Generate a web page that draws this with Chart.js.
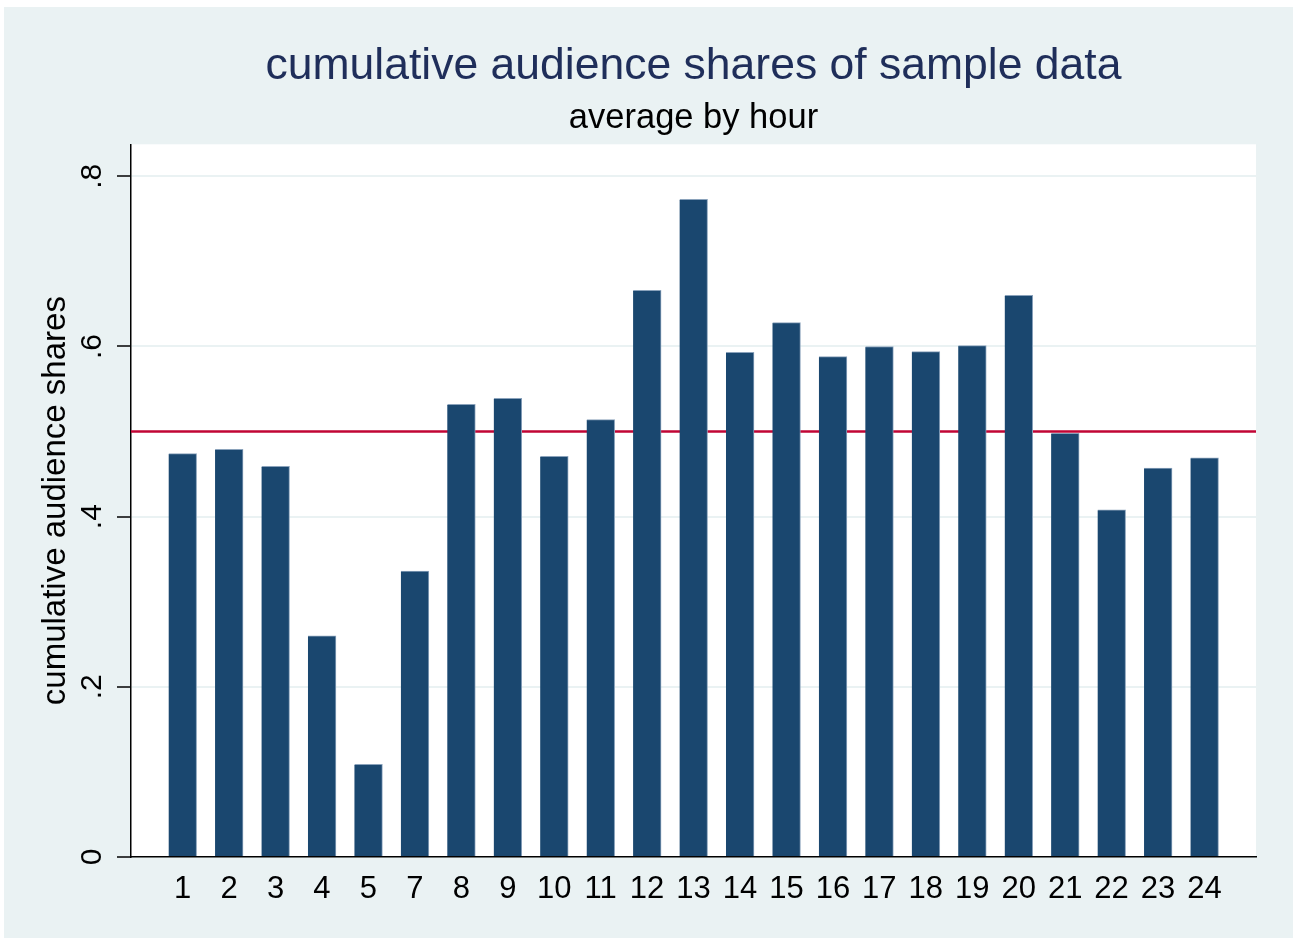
<!DOCTYPE html>
<html>
<head>
<meta charset="utf-8">
<script src="https://cdn.jsdelivr.net/npm/chart.js@4/dist/chart.umd.min.js"></script>
<style>
  html, body { margin: 0; padding: 0; background: #ffffff; }
  #wrap { position: absolute; left: 0; top: 0; width: 1293px; height: 938px; }
</style>
</head>
<body>
<div id="wrap"><canvas id="c" width="1293" height="938"></canvas></div>
<script>
// ---- data ----
const hours = ['1','2','3','4','5','7','8','9','10','11','12','13','14','15','16','17','18','19','20','21','22','23','24'];
const shares = [0.474, 0.479, 0.459, 0.260, 0.109, 0.336, 0.532, 0.539, 0.471, 0.514, 0.666, 0.773,
                0.593, 0.628, 0.588, 0.600, 0.594, 0.601, 0.660, 0.498, 0.408, 0.457, 0.469];
const refLevel = 0.5;
const yTickValues = [0, 0.2, 0.4, 0.6, 0.8];
const yTickLabels = ['0', '.2', '.4', '.6', '.8'];

const X_MIN = -1.111, X_MAX = hours.length - 1 + 1.109;
const FONT = "'Liberation Sans', Arial, sans-serif";

const bgPlugin = {
  id: 'bg',
  beforeDraw(chart) {
    const {ctx, chartArea: a, width, height} = chart;
    ctx.save();
    ctx.fillStyle = '#ffffff';
    ctx.fillRect(0, 0, width, height);
    ctx.fillStyle = '#eaf2f3';
    ctx.fillRect(4, 7, width - 4, height - 7);
    ctx.fillStyle = '#ffffff';
    ctx.fillRect(a.left, a.top, a.right - a.left, a.bottom - a.top);
    ctx.restore();
  }
};

new Chart(document.getElementById('c'), {
  type: 'bar',
  data: {
    datasets: [
      {
        type: 'bar',
        data: hours.map((h, i) => ({x: i, y: shares[i]})),
        backgroundColor: '#1a476f',
        borderColor: '#8aa2bb',
        borderWidth: {top: 1, right: 1, left: 0, bottom: 0},
        borderSkipped: 'start',
        barThickness: 28,
        order: 0
      },
      {
        type: 'line',
        data: [{x: X_MIN, y: refLevel}, {x: X_MAX, y: refLevel}],
        borderColor: '#c10534',
        borderWidth: 2.5,
        pointRadius: 0,
        fill: false,
        order: 1
      }
    ]
  },
  plugins: [bgPlugin],
  options: {
    responsive: false,
    animation: false,
    devicePixelRatio: 1,
    layout: { padding: { left: 0, right: 37, top: 0, bottom: 0 } },
    plugins: {
      legend: { display: false },
      tooltip: { enabled: false },
      title: {
        display: true,
        text: 'cumulative audience shares of sample data',
        fullSize: false,
        color: '#1f2e5a',
        font: { family: FONT, size: 44.5, weight: 'normal', lineHeight: 1.2 },
        padding: { top: 40.5, bottom: 3.7 }
      },
      subtitle: {
        display: true,
        text: 'average by hour',
        fullSize: false,
        color: '#000000',
        font: { family: FONT, size: 34.5, weight: 'normal', lineHeight: 1.2 },
        padding: { top: 0, bottom: 5.3 }
      }
    },
    scales: {
      x: {
        type: 'linear',
        min: X_MIN,
        max: X_MAX,
        offset: false,
        afterFit(scale) { scale.height = 81; },
        afterBuildTicks(scale) {
          scale.ticks = hours.map((h, i) => ({value: i}));
        },
        grid: { display: false, drawTicks: false },
        border: { display: true, color: '#000000', width: 1.5 },
        ticks: {
          autoSkip: false,
          maxRotation: 0,
          minRotation: 0,
          padding: 13.7,
          color: '#000000',
          font: { family: FONT, size: 31 },
          callback: (v) => hours[v]
        }
      },
      y: {
        type: 'linear',
        min: 0,
        max: 0.8376,
        afterFit(scale) { scale.width = 131; },
        afterBuildTicks(scale) {
          scale.ticks = yTickValues.map(v => ({value: v}));
        },
        grid: {
          display: true,
          color: '#eaf2f3',
          lineWidth: 2,
          drawTicks: true,
          tickLength: 14,
          tickColor: '#000000',
          tickWidth: 1.5
        },
        border: { display: true, color: '#000000', width: 1.5 },
        ticks: {
          minRotation: 90,
          maxRotation: 90,
          crossAlign: 'center',
          padding: 11.5,
          color: '#000000',
          font: { family: FONT, size: 30 },
          callback: (v) => yTickLabels[yTickValues.indexOf(v)]
        },
        title: {
          display: true,
          text: 'cumulative audience shares',
          color: '#000000',
          font: { family: FONT, size: 33, lineHeight: 1.2 },
          padding: { top: 36.2, bottom: 0 }
        }
      }
    }
  }
});
</script>
</body>
</html>
